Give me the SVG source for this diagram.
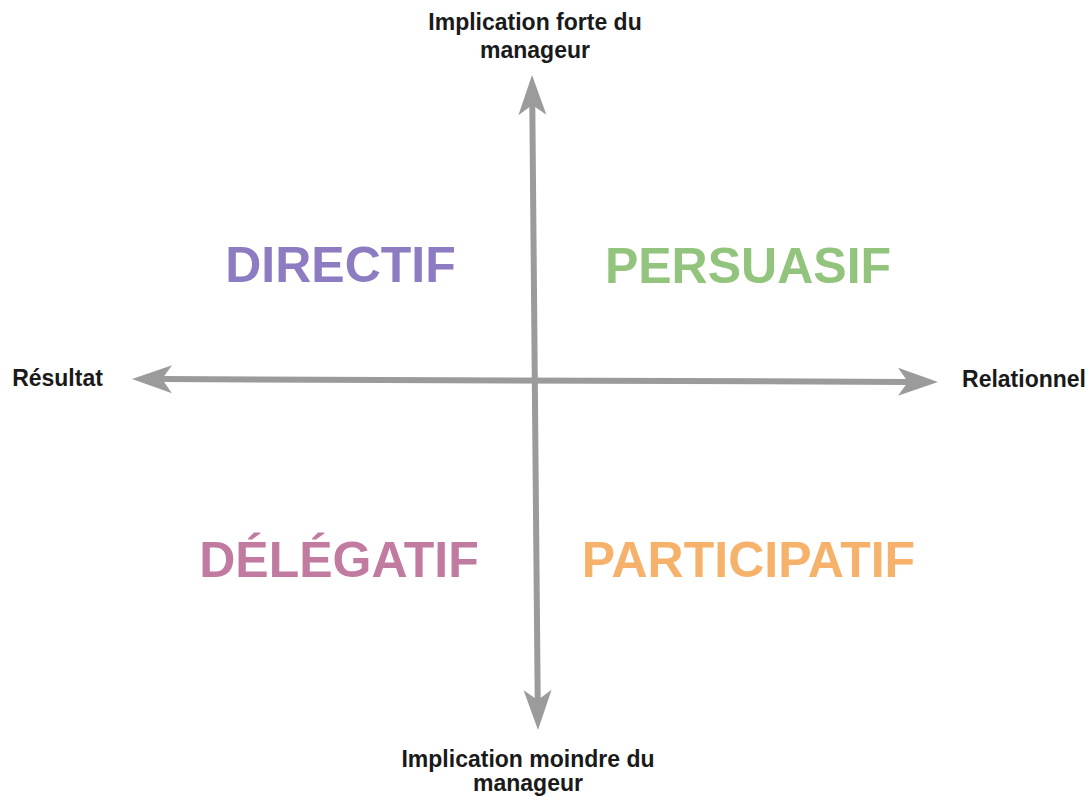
<svg xmlns="http://www.w3.org/2000/svg" width="1091" height="800" viewBox="0 0 1091 800">
<style>
.lbl{font-family:"Liberation Sans",Arial,sans-serif;font-weight:bold;font-size:23px;fill:#1a1a1a;text-anchor:middle}
.big{font-family:"Liberation Sans",Arial,sans-serif;font-weight:bold;font-size:50px;text-anchor:middle}
.ax{stroke:#9b9b9b;stroke-width:6;fill:none;marker-start:url(#ah);marker-end:url(#ah)}
</style>
<defs>
<marker id="ah" markerUnits="userSpaceOnUse" viewBox="-41 -15 42 30" markerWidth="42" markerHeight="30" refX="-30" refY="0" orient="auto-start-reverse">
<path d="M0,0 L-40,-14 L-30,0 L-40,14 Z" fill="#9b9b9b"/>
</marker>
</defs>
<rect width="1091" height="800" fill="#ffffff"/>
<g id="connectors">
<line class="ax" x1="532.3" y1="105" x2="537.7" y2="700"/>
<line class="ax" x1="162" y1="379.1" x2="908" y2="381.9"/>
</g>
<g id="top-label"><text class="lbl" x="535" y="30">Implication forte du</text><text class="lbl" x="535" y="58">manageur</text></g>
<g id="bottom-label"><text class="lbl" x="528" y="767">Implication moindre du</text><text class="lbl" x="528" y="791">manageur</text></g>
<g id="left-label"><text class="lbl" x="57.5" y="386">Résultat</text></g>
<g id="right-label"><text class="lbl" x="1024" y="387">Relationnel</text></g>
<g id="directif"><text class="big" x="340.5" y="282" fill="#8e7cc3">DIRECTIF</text></g>
<g id="persuasif"><text class="big" x="748" y="283" fill="#93c47d">PERSUASIF</text></g>
<g id="delegatif"><text class="big" x="339" y="577" fill="#c27ba0">DÉLÉGATIF</text></g>
<g id="participatif"><text class="big" x="748.5" y="577" fill="#f6b26b">PARTICIPATIF</text></g>
</svg>
